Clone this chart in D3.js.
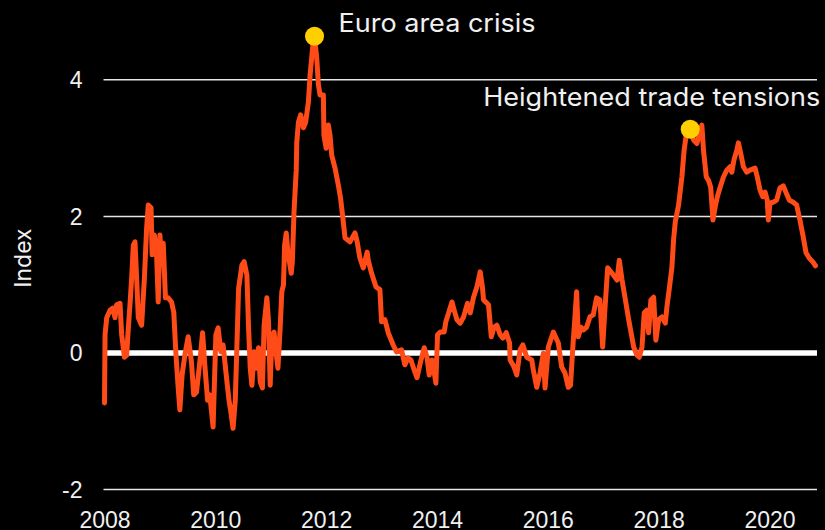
<!DOCTYPE html>
<html>
<head>
<meta charset="utf-8">
<script src="https://d3js.org/d3.v7.min.js"></script>
<style>
  html, body { margin: 0; padding: 0; background: #000; }
  svg { display: block; font-family: Inter, "Open Sans", sans-serif; }
</style>
</head>
<body>
<div class="stress-chart"></div>
<script>
// decimal years and index values
var years = [
  2008.00, 2008.01, 2008.04, 2008.10, 2008.15, 2008.19, 2008.22, 2008.28, 2008.31, 2008.36,
  2008.40, 2008.43, 2008.46, 2008.49, 2008.52, 2008.55, 2008.58, 2008.61, 2008.67, 2008.72,
  2008.76, 2008.79, 2008.84, 2008.86, 2008.90, 2008.94, 2008.97, 2009.00, 2009.03, 2009.06,
  2009.10, 2009.15, 2009.21, 2009.25, 2009.29, 2009.33, 2009.36, 2009.40, 2009.45, 2009.51,
  2009.57, 2009.61, 2009.66, 2009.72, 2009.77, 2009.81, 2009.86, 2009.90, 2009.96, 2010.01,
  2010.05, 2010.10, 2010.14, 2010.21, 2010.25, 2010.28, 2010.32, 2010.36, 2010.39, 2010.42,
  2010.48, 2010.52, 2010.57, 2010.60, 2010.63, 2010.66, 2010.70, 2010.74, 2010.78, 2010.81,
  2010.85, 2010.88, 2010.93, 2010.96, 2010.99, 2011.02, 2011.06, 2011.09, 2011.13, 2011.17,
  2011.20, 2011.23, 2011.25, 2011.28, 2011.31, 2011.37, 2011.39, 2011.42, 2011.46, 2011.47,
  2011.50, 2011.54, 2011.59, 2011.63, 2011.68, 2011.71, 2011.76, 2011.79, 2011.83, 2011.86,
  2011.89, 2011.95, 2011.96, 2012.00, 2012.04, 2012.07, 2012.10, 2012.16, 2012.22, 2012.26,
  2012.31, 2012.34, 2012.43, 2012.52, 2012.56, 2012.61, 2012.67, 2012.74, 2012.76, 2012.82,
  2012.90, 2012.97, 2013.00, 2013.06, 2013.12, 2013.21, 2013.27, 2013.36, 2013.42, 2013.48,
  2013.53, 2013.59, 2013.64, 2013.70, 2013.77, 2013.82, 2013.86, 2013.91, 2013.95, 2013.98,
  2014.01, 2014.06, 2014.13, 2014.16, 2014.21, 2014.27, 2014.31, 2014.36, 2014.42, 2014.48,
  2014.55, 2014.60, 2014.66, 2014.72, 2014.78, 2014.82, 2014.84, 2014.93, 2014.98, 2015.03,
  2015.08, 2015.14, 2015.19, 2015.25, 2015.31, 2015.32, 2015.39, 2015.44, 2015.50, 2015.55,
  2015.62, 2015.71, 2015.74, 2015.80, 2015.86, 2015.92, 2015.95, 2016.01, 2016.10, 2016.19,
  2016.25, 2016.31, 2016.37, 2016.41, 2016.46, 2016.49, 2016.52, 2016.55, 2016.60, 2016.64,
  2016.70, 2016.76, 2016.82, 2016.88, 2016.94, 2016.99, 2017.03, 2017.08, 2017.16, 2017.25,
  2017.29, 2017.34, 2017.40, 2017.46, 2017.55, 2017.61, 2017.65, 2017.70, 2017.74, 2017.79,
  2017.82, 2017.86, 2017.91, 2017.95, 2018.00, 2018.06, 2018.12, 2018.15, 2018.19, 2018.24,
  2018.27, 2018.30, 2018.36, 2018.42, 2018.46, 2018.51, 2018.57, 2018.63, 2018.69, 2018.74,
  2018.78, 2018.81, 2018.86, 2018.90, 2018.94, 2018.98, 2019.02, 2019.06, 2019.11, 2019.17,
  2019.23, 2019.29, 2019.32, 2019.36, 2019.41, 2019.44, 2019.48, 2019.53, 2019.59, 2019.65,
  2019.74, 2019.78, 2019.83, 2019.88, 2019.92, 2019.96, 2019.98, 2020.01, 2020.07, 2020.13,
  2020.19, 2020.25, 2020.30, 2020.36, 2020.43, 2020.49, 2020.55, 2020.61, 2020.66, 2020.72,
  2020.78, 2020.83
];

var values = [
  -0.74, 0.26, 0.51, 0.62, 0.65, 0.51, 0.70, 0.72, 0.26, -0.07,
  -0.04, 0.36, 0.70, 1.09, 1.57, 1.62, 1.09, 0.51, 0.40, 1.09,
  1.82, 2.16, 2.12, 1.43, 1.72, 1.43, 0.74, 1.72, 1.33, 1.60,
  0.80, 0.80, 0.74, 0.59, -0.04, -0.52, -0.84, -0.33, -0.04, 0.23,
  -0.14, -0.62, -0.58, -0.14, 0.29, -0.18, -0.70, -0.62, -1.09, 0.26,
  0.36, 0.01, 0.11, -0.43, -0.72, -0.87, -1.11, -0.70, 0.11, 0.94,
  1.28, 1.33, 1.13, 0.36, -0.23, -0.48, 0.01, -0.23, 0.07, -0.43,
  -0.52, 0.40, 0.80, 0.45, -0.48, 0.21, 0.30, 0.04, -0.23, 0.36,
  0.89, 0.99, 1.57, 1.75, 1.47, 1.16, 1.33, 2.06, 2.67, 3.08,
  3.37, 3.48, 3.29, 3.37, 3.67, 4.06, 4.50, 4.63, 4.31, 3.92,
  3.77, 3.77, 3.18, 2.99, 3.33, 3.18, 2.89, 2.70, 2.45, 2.26,
  1.91, 1.68, 1.62, 1.75, 1.62, 1.38, 1.24, 1.47, 1.35, 1.16,
  0.96, 0.92, 0.45, 0.48, 0.29, 0.11, 0.01, 0.04, -0.18, -0.08,
  -0.11, -0.26, -0.37, -0.15, 0.07, -0.07, -0.33, -0.11, -0.29, -0.45,
  0.26, 0.30, 0.30, 0.45, 0.58, 0.74, 0.62, 0.48, 0.43, 0.52,
  0.72, 0.58, 0.81, 0.96, 1.18, 0.96, 0.77, 0.70, 0.23, 0.37,
  0.40, 0.26, 0.21, 0.29, 0.14, -0.11, -0.21, -0.33, 0.04, 0.11,
  -0.07, -0.11, -0.26, -0.51, -0.30, -0.01, -0.52, 0.08, 0.30, 0.14,
  -0.21, -0.30, -0.51, -0.48, 0.18, 0.52, 0.89, 0.23, 0.37, 0.33,
  0.37, 0.52, 0.55, 0.80, 0.77, 0.08, 0.62, 1.24, 1.16, 1.06,
  1.35, 1.06, 0.77, 0.48, 0.08, -0.04, -0.07, 0.08, 0.58, 0.62,
  0.29, 0.77, 0.81, 0.18, 0.48, 0.52, 0.43, 0.67, 0.92, 1.25,
  1.65, 1.91, 2.16, 2.57, 2.96, 3.26, 3.27, 3.11, 3.06, 3.21,
  3.33, 2.96, 2.57, 2.52, 2.42, 1.94, 2.13, 2.28, 2.42, 2.57,
  2.67, 2.72, 2.64, 2.82, 2.96, 3.07, 2.92, 2.72, 2.64, 2.67,
  2.70, 2.57, 2.38, 2.28, 2.35, 2.23, 1.94, 2.19, 2.20, 2.23,
  2.41, 2.44, 2.34, 2.23, 2.20, 2.16, 1.94, 1.69, 1.46, 1.38,
  1.33, 1.27
];

var yTicks = [-2, 0, 2, 4],
    xTicks = [2008, 2010, 2012, 2014, 2016, 2018, 2020];

var annoLabels = ['Euro area crisis', 'Heightened trade tensions'],
    annoYears = [2011.79, 2018.57],
    annoValues = [4.63, 3.27];

var W = 825, H = 530,
    margin = { top: 79.3, right: 9, bottom: 40.9, left: 104.5 },
    width = W - margin.left - margin.right,
    height = H - margin.top - margin.bottom,
    lineColor = '#ff4b17',
    dotColor = '#ffcf00',
    textColor = '#f0f0f0';

var svg = d3.select('.stress-chart').append('svg')
    .attr('width', W)
    .attr('height', H);

svg.append('rect')
    .attr('width', W)
    .attr('height', H)
    .attr('fill', '#000');

var g = svg.append('g')
    .attr('transform', 'translate(' + margin.left + ',' + margin.top + ')');

var x = d3.scaleLinear()
    .domain([2008, 2020.84])
    .range([0, width]);

var y = d3.scaleLinear()
    .domain([4, -2])
    .range([0, height]);

// gridlines + y labels (plain hyphen for negatives, as in the source)
var yAxis = g.append('g')
    .attr('class', 'y-axis')
    .call(d3.axisLeft(y)
        .tickValues(yTicks)
        .tickSize(-width - 1)
        .tickPadding(22)
        .tickFormat(function (d) { return String(d); }));

yAxis.select('.domain').remove();
yAxis.selectAll('.tick line')
    .attr('x1', -1)
    .attr('stroke', function (d) { return d === 0 ? '#fff' : '#e6e6e6'; })
    .attr('stroke-width', function (d) { return d === 0 ? 5.5 : 1.5; });
yAxis.selectAll('.tick text')
    .attr('fill', textColor)
    .attr('font-size', 23)
    .attr('dy', '0.36em');

var xAxis = g.append('g')
    .attr('class', 'x-axis')
    .attr('transform', 'translate(0,' + height + ')')
    .call(d3.axisBottom(x)
        .tickValues(xTicks)
        .tickSize(0)
        .tickPadding(0)
        .tickFormat(d3.format('d')));

xAxis.select('.domain').remove();
xAxis.selectAll('.tick text')
    .attr('fill', textColor)
    .attr('font-size', 23)
    .attr('dy', null)
    .attr('y', 39);

svg.append('text')
    .attr('transform', 'translate(31,258) rotate(-90)')
    .attr('text-anchor', 'middle')
    .attr('fill', textColor)
    .attr('font-size', 23)
    .text('Index');

var line = d3.line()
    .x(function (d, i) { return x(years[i]); })
    .y(function (d) { return y(d); })
    .curve(d3.curveLinear);

g.append('path')
    .datum(values)
    .attr('d', line)
    .attr('fill', 'none')
    .attr('stroke', lineColor)
    .attr('stroke-width', 5)
    .attr('stroke-linejoin', 'round')
    .attr('stroke-linecap', 'round');

// event markers
var anno = g.selectAll('.anno')
    .data(annoLabels)
    .enter().append('g')
    .attr('class', 'anno')
    .attr('transform', function (d, i) {
        return 'translate(' + x(annoYears[i]) + ',' + y(annoValues[i]) + ')';
    });

anno.append('circle')
    .attr('r', 9.5)
    .attr('fill', dotColor);

anno.append('text')
    .text(function (d) { return d; })
    .attr('fill', textColor)
    .attr('font-size', 25)
    .attr('text-anchor', function (d, i) { return i === 0 ? 'start' : 'end'; })
    .attr('x', function (d, i) { return i === 0 ? 24 : 130; })
    .attr('y', function (d, i) { return i === 0 ? -4 : -23; })
    .attr('textLength', function (d, i) { return i === 0 ? 197 : 337; })
    .attr('lengthAdjust', 'spacingAndGlyphs');
</script>
</body>
</html>
